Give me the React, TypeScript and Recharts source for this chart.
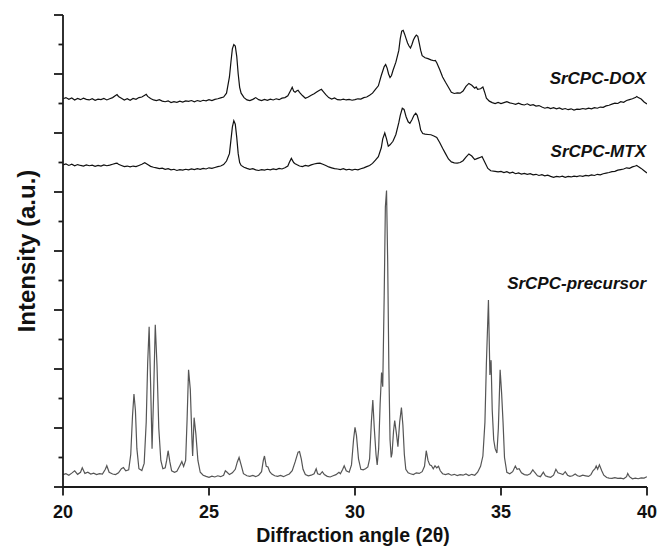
import { Line, LineChart, XAxis, YAxis } from "recharts";

// 2θ (deg), intensity in axis ticks (a.u.)
const doxPattern = [
  [20.0, 13.16], [20.1, 13.2], [20.2, 13.14], [20.3, 13.19], [20.4, 13.12], [20.5, 13.17], [20.6, 13.13], [20.7, 13.18],
  [20.8, 13.14], [20.9, 13.12], [21.0, 13.16], [21.1, 13.11], [21.2, 13.15], [21.3, 13.13], [21.4, 13.17], [21.5, 13.12],
  [21.6, 13.16], [21.7, 13.2], [21.8, 13.27], [21.85, 13.3], [21.9, 13.24], [22.0, 13.18], [22.1, 13.12], [22.2, 13.16],
  [22.3, 13.11], [22.4, 13.17], [22.5, 13.14], [22.6, 13.2], [22.7, 13.22], [22.8, 13.28], [22.85, 13.31], [22.9, 13.24],
  [23.0, 13.17], [23.1, 13.12], [23.2, 13.1], [23.3, 13.13], [23.4, 13.08], [23.5, 13.06], [23.6, 13.09], [23.7, 13.03],
  [23.8, 13.06], [23.9, 13.04], [24.0, 13.08], [24.1, 13.05], [24.2, 13.09], [24.3, 13.07], [24.4, 13.1], [24.5, 13.06],
  [24.6, 13.1], [24.7, 13.07], [24.8, 13.11], [24.9, 13.09], [25.0, 13.13], [25.1, 13.1], [25.2, 13.14], [25.3, 13.16],
  [25.4, 13.19], [25.5, 13.22], [25.6, 13.35], [25.7, 13.9], [25.75, 14.4], [25.8, 14.85], [25.85, 15.0], [25.9, 14.95],
  [25.95, 14.6], [26.0, 14.0], [26.05, 13.55], [26.1, 13.35], [26.2, 13.2], [26.3, 13.12], [26.4, 13.1], [26.5, 13.14],
  [26.6, 13.2], [26.7, 13.13], [26.8, 13.1], [26.9, 13.14], [27.0, 13.11], [27.1, 13.15], [27.2, 13.12], [27.3, 13.16],
  [27.4, 13.13], [27.5, 13.18], [27.6, 13.2], [27.7, 13.26], [27.8, 13.45], [27.85, 13.55], [27.9, 13.42], [27.95, 13.38],
  [28.0, 13.42], [28.05, 13.45], [28.1, 13.38], [28.2, 13.27], [28.3, 13.18], [28.4, 13.22], [28.5, 13.28], [28.6, 13.33],
  [28.7, 13.4], [28.8, 13.46], [28.85, 13.48], [28.9, 13.42], [29.0, 13.3], [29.1, 13.2], [29.2, 13.15], [29.3, 13.19],
  [29.4, 13.13], [29.5, 13.12], [29.6, 13.15], [29.7, 13.12], [29.8, 13.14], [29.9, 13.11], [30.0, 13.13], [30.1, 13.16],
  [30.2, 13.15], [30.3, 13.2], [30.4, 13.22], [30.5, 13.28], [30.6, 13.35], [30.7, 13.48], [30.8, 13.6], [30.9, 13.95],
  [31.0, 14.25], [31.05, 14.32], [31.1, 14.2], [31.15, 14.0], [31.2, 13.88], [31.25, 13.95], [31.3, 14.12], [31.4, 14.4],
  [31.5, 14.8], [31.55, 15.2], [31.6, 15.45], [31.65, 15.48], [31.7, 15.35], [31.75, 15.2], [31.8, 15.05], [31.85, 14.95],
  [31.9, 14.88], [31.95, 15.0], [32.0, 15.15], [32.05, 15.25], [32.1, 15.32], [32.15, 15.28], [32.2, 15.05], [32.25, 14.8],
  [32.3, 14.62], [32.4, 14.55], [32.5, 14.52], [32.6, 14.48], [32.7, 14.45], [32.75, 14.46], [32.8, 14.38], [32.9, 14.15],
  [33.0, 13.9], [33.1, 13.72], [33.2, 13.55], [33.3, 13.38], [33.4, 13.34], [33.5, 13.36], [33.6, 13.35], [33.7, 13.42],
  [33.8, 13.58], [33.9, 13.68], [34.0, 13.62], [34.1, 13.52], [34.15, 13.56], [34.2, 13.48], [34.3, 13.5], [34.38, 13.56],
  [34.45, 13.35], [34.5, 13.18], [34.6, 13.08], [34.7, 13.03], [34.8, 13.0], [34.9, 13.04], [35.0, 13.0], [35.1, 13.03],
  [35.2, 13.06], [35.3, 13.02], [35.4, 13.0], [35.5, 12.97], [35.6, 13.01], [35.7, 12.97], [35.8, 12.95], [35.9, 12.99],
  [36.0, 12.94], [36.1, 12.96], [36.2, 12.91], [36.3, 12.93], [36.4, 12.88], [36.5, 12.84], [36.6, 12.87], [36.7, 12.83],
  [36.8, 12.86], [36.9, 12.82], [37.0, 12.85], [37.1, 12.8], [37.2, 12.83], [37.3, 12.79], [37.4, 12.82], [37.5, 12.78],
  [37.6, 12.81], [37.7, 12.8], [37.8, 12.83], [37.9, 12.81], [38.0, 12.84], [38.1, 12.82], [38.2, 12.86], [38.3, 12.84],
  [38.4, 12.88], [38.5, 12.87], [38.6, 12.92], [38.7, 12.94], [38.8, 12.98], [38.9, 13.01], [39.0, 13.0], [39.1, 13.06],
  [39.2, 13.04], [39.3, 13.1], [39.4, 13.13], [39.5, 13.16], [39.6, 13.2], [39.65, 13.24], [39.7, 13.2], [39.8, 13.15],
  [39.9, 13.05], [40.0, 12.98],
];

const mtxPattern = [
  [20.0, 10.92], [20.1, 10.95], [20.2, 10.9], [20.3, 10.94], [20.4, 10.89], [20.5, 10.93], [20.6, 10.9], [20.7, 10.88],
  [20.8, 10.92], [20.9, 10.89], [21.0, 10.91], [21.1, 10.87], [21.2, 10.9], [21.3, 10.88], [21.4, 10.92], [21.5, 10.89],
  [21.6, 10.91], [21.7, 10.94], [21.8, 10.97], [21.85, 10.98], [21.9, 10.94], [22.0, 10.9], [22.1, 10.86], [22.2, 10.88],
  [22.3, 10.85], [22.4, 10.88], [22.5, 10.86], [22.6, 10.9], [22.7, 10.94], [22.8, 10.99], [22.9, 10.93], [23.0, 10.87],
  [23.1, 10.84], [23.2, 10.82], [23.3, 10.79], [23.4, 10.81], [23.5, 10.77], [23.6, 10.79], [23.7, 10.75], [23.8, 10.77],
  [23.9, 10.73], [24.0, 10.76], [24.1, 10.74], [24.2, 10.77], [24.3, 10.75], [24.4, 10.78], [24.5, 10.76], [24.6, 10.79],
  [24.7, 10.77], [24.8, 10.8], [24.9, 10.78], [25.0, 10.82], [25.1, 10.8], [25.2, 10.83], [25.3, 10.86], [25.4, 10.88],
  [25.5, 10.93], [25.6, 11.05], [25.7, 11.3], [25.75, 11.75], [25.8, 12.2], [25.85, 12.42], [25.9, 12.3], [25.95, 11.85],
  [26.0, 11.3], [26.05, 11.0], [26.1, 10.9], [26.2, 10.84], [26.3, 10.8], [26.4, 10.77], [26.5, 10.79], [26.6, 10.75],
  [26.7, 10.73], [26.8, 10.76], [26.9, 10.74], [27.0, 10.77], [27.1, 10.75], [27.2, 10.78], [27.3, 10.76], [27.4, 10.8],
  [27.5, 10.78], [27.6, 10.82], [27.7, 10.88], [27.75, 11.0], [27.82, 11.14], [27.9, 11.0], [27.95, 10.96], [28.0, 10.93],
  [28.1, 10.88], [28.2, 10.86], [28.3, 10.9], [28.4, 10.88], [28.5, 10.92], [28.6, 10.95], [28.7, 10.97], [28.8, 10.98],
  [28.9, 10.94], [29.0, 10.9], [29.1, 10.85], [29.2, 10.82], [29.3, 10.79], [29.4, 10.78], [29.5, 10.76], [29.6, 10.79],
  [29.7, 10.75], [29.8, 10.77], [29.9, 10.74], [30.0, 10.77], [30.1, 10.75], [30.2, 10.79], [30.3, 10.82], [30.4, 10.86],
  [30.5, 10.9], [30.6, 10.97], [30.7, 11.08], [30.8, 11.2], [30.9, 11.5], [30.95, 11.8], [31.02, 12.0], [31.08, 11.8],
  [31.14, 11.55], [31.2, 11.6], [31.3, 11.72], [31.4, 11.95], [31.5, 12.35], [31.55, 12.6], [31.62, 12.84], [31.68, 12.8],
  [31.75, 12.55], [31.82, 12.38], [31.88, 12.33], [31.95, 12.45], [32.02, 12.6], [32.08, 12.67], [32.13, 12.6], [32.2, 12.35],
  [32.25, 12.1], [32.32, 11.98], [32.4, 11.96], [32.5, 11.95], [32.6, 11.94], [32.7, 11.9], [32.8, 11.85], [32.9, 11.68],
  [33.0, 11.48], [33.1, 11.3], [33.2, 11.12], [33.3, 11.02], [33.4, 10.99], [33.5, 10.98], [33.6, 11.0], [33.7, 11.06],
  [33.8, 11.18], [33.9, 11.29], [34.0, 11.22], [34.1, 11.1], [34.2, 11.14], [34.3, 11.18], [34.35, 11.2], [34.45, 11.0],
  [34.55, 10.8], [34.65, 10.72], [34.8, 10.7], [34.9, 10.68], [35.0, 10.7], [35.1, 10.66], [35.2, 10.69], [35.3, 10.64],
  [35.4, 10.67], [35.5, 10.62], [35.6, 10.65], [35.7, 10.61], [35.8, 10.63], [35.9, 10.6], [36.0, 10.62], [36.1, 10.58],
  [36.2, 10.6], [36.3, 10.56], [36.4, 10.59], [36.5, 10.55], [36.6, 10.57], [36.7, 10.53], [36.8, 10.5], [36.9, 10.53],
  [37.0, 10.51], [37.1, 10.54], [37.2, 10.5], [37.3, 10.53], [37.4, 10.51], [37.5, 10.54], [37.6, 10.52], [37.7, 10.55],
  [37.8, 10.53], [37.9, 10.56], [38.0, 10.55], [38.1, 10.58], [38.2, 10.56], [38.3, 10.6], [38.4, 10.58], [38.5, 10.62],
  [38.6, 10.64], [38.7, 10.66], [38.8, 10.69], [38.9, 10.7], [39.0, 10.74], [39.1, 10.76], [39.2, 10.78], [39.3, 10.82],
  [39.4, 10.8], [39.5, 10.85], [39.6, 10.88], [39.65, 10.9], [39.7, 10.86], [39.8, 10.8], [39.9, 10.72], [40.0, 10.64],
];

const precursorPattern = [
  [20.0, 0.42], [20.1, 0.45], [20.2, 0.4], [20.3, 0.47], [20.4, 0.55], [20.5, 0.43], [20.6, 0.5], [20.66, 0.65],
  [20.75, 0.46], [20.85, 0.5], [20.95, 0.44], [21.05, 0.47], [21.15, 0.42], [21.25, 0.45], [21.35, 0.44], [21.45, 0.6],
  [21.5, 0.72], [21.58, 0.5], [21.7, 0.44], [21.8, 0.42], [21.9, 0.48], [22.0, 0.62], [22.07, 0.66], [22.15, 0.55],
  [22.25, 0.58], [22.32, 1.1], [22.38, 2.4], [22.43, 3.15], [22.48, 2.6], [22.53, 1.3], [22.6, 0.62], [22.7, 0.56],
  [22.78, 0.8], [22.85, 2.2], [22.9, 4.2], [22.95, 5.43], [23.0, 3.5], [23.05, 1.3], [23.1, 3.0], [23.16, 5.5],
  [23.22, 4.1], [23.28, 2.0], [23.35, 0.9], [23.42, 0.62], [23.5, 0.65], [23.55, 0.9], [23.6, 1.23], [23.66, 0.85],
  [23.72, 0.55], [23.82, 0.5], [23.9, 0.53], [24.0, 0.72], [24.07, 0.86], [24.13, 0.7], [24.2, 0.9], [24.25, 2.3],
  [24.3, 3.97], [24.36, 3.3], [24.42, 1.5], [24.44, 1.05], [24.49, 2.35], [24.55, 1.8], [24.62, 0.9], [24.7, 0.5],
  [24.8, 0.4], [24.9, 0.36], [25.0, 0.33], [25.1, 0.37], [25.2, 0.34], [25.3, 0.38], [25.4, 0.35], [25.5, 0.4],
  [25.56, 0.55], [25.62, 0.5], [25.7, 0.42], [25.8, 0.48], [25.9, 0.6], [25.97, 0.85], [26.03, 1.0], [26.1, 0.75],
  [26.18, 0.45], [26.3, 0.38], [26.4, 0.36], [26.5, 0.39], [26.6, 0.35], [26.7, 0.4], [26.8, 0.52], [26.86, 0.9],
  [26.9, 1.05], [26.96, 0.7], [27.02, 0.68], [27.08, 0.52], [27.15, 0.44], [27.25, 0.38], [27.35, 0.36], [27.45, 0.39],
  [27.55, 0.35], [27.65, 0.4], [27.75, 0.44], [27.85, 0.55], [27.95, 0.85], [28.05, 1.18], [28.1, 1.2], [28.16, 0.95],
  [28.22, 0.6], [28.3, 0.42], [28.4, 0.38], [28.5, 0.4], [28.6, 0.45], [28.67, 0.62], [28.72, 0.45], [28.8, 0.42],
  [28.88, 0.52], [28.95, 0.42], [29.05, 0.36], [29.15, 0.34], [29.25, 0.38], [29.35, 0.42], [29.45, 0.5], [29.5, 0.45],
  [29.58, 0.6], [29.63, 0.72], [29.7, 0.55], [29.8, 0.5], [29.88, 0.75], [29.95, 1.6], [30.0, 2.02], [30.05, 1.75],
  [30.12, 0.95], [30.2, 0.6], [30.28, 0.58], [30.36, 0.62], [30.44, 0.68], [30.5, 0.95], [30.56, 2.2], [30.61, 2.95],
  [30.66, 2.0], [30.72, 1.1], [30.76, 0.75], [30.81, 1.3], [30.86, 2.8], [30.91, 3.88], [30.95, 3.4], [31.0, 6.5],
  [31.04, 9.5], [31.08, 10.05], [31.12, 7.6], [31.16, 4.0], [31.2, 1.6], [31.24, 1.0], [31.27, 1.15], [31.32, 1.9],
  [31.36, 2.25], [31.42, 1.8], [31.47, 1.37], [31.53, 2.2], [31.59, 2.69], [31.64, 2.1], [31.69, 1.1], [31.74, 0.6],
  [31.82, 0.48], [31.9, 0.45], [32.0, 0.42], [32.1, 0.48], [32.2, 0.46], [32.3, 0.52], [32.38, 0.7], [32.44, 1.23],
  [32.5, 0.9], [32.56, 0.75], [32.62, 0.72], [32.68, 0.62], [32.74, 0.72], [32.8, 0.65], [32.86, 0.7], [32.92, 0.55],
  [33.0, 0.45], [33.1, 0.42], [33.2, 0.45], [33.3, 0.4], [33.4, 0.43], [33.5, 0.39], [33.6, 0.42], [33.7, 0.4],
  [33.8, 0.44], [33.9, 0.39], [34.0, 0.43], [34.1, 0.4], [34.2, 0.5], [34.3, 0.7], [34.38, 1.05], [34.45, 2.2],
  [34.5, 4.2], [34.57, 6.34], [34.62, 3.8], [34.66, 4.3], [34.7, 2.6], [34.75, 1.6], [34.8, 1.3], [34.86, 1.15],
  [34.91, 2.0], [34.97, 3.97], [35.02, 3.2], [35.07, 2.2], [35.12, 1.0], [35.2, 0.5], [35.3, 0.45], [35.4, 0.52],
  [35.49, 0.71], [35.55, 0.6], [35.62, 0.62], [35.7, 0.48], [35.8, 0.42], [35.9, 0.4], [36.0, 0.45], [36.09, 0.58],
  [36.15, 0.5], [36.25, 0.38], [36.35, 0.35], [36.45, 0.5], [36.52, 0.38], [36.6, 0.35], [36.7, 0.33], [36.8, 0.4],
  [36.88, 0.6], [36.95, 0.48], [37.05, 0.45], [37.12, 0.42], [37.2, 0.52], [37.28, 0.4], [37.36, 0.36], [37.45, 0.38],
  [37.54, 0.44], [37.62, 0.38], [37.7, 0.36], [37.8, 0.4], [37.9, 0.38], [38.0, 0.36], [38.08, 0.42], [38.15, 0.55],
  [38.22, 0.62], [38.26, 0.71], [38.31, 0.6], [38.37, 0.75], [38.45, 0.55], [38.52, 0.4], [38.62, 0.32], [38.7, 0.3],
  [38.8, 0.29], [38.9, 0.32], [39.0, 0.29], [39.1, 0.3], [39.2, 0.28], [39.3, 0.35], [39.34, 0.46], [39.4, 0.35],
  [39.5, 0.28], [39.6, 0.3], [39.7, 0.28], [39.8, 0.31], [39.9, 0.3], [40.0, 0.35],
];

const xTicks = [20, 25, 30, 35, 40];
const yTicks = [0, 1, 2, 3, 4, 5, 6, 7, 8, 9, 10, 11, 12, 13, 14, 15, 16];
const seriesNames = ["SrCPC-DOX", "SrCPC-MTX", "SrCPC-precursor"];

const FONT = "'Liberation Sans', Arial, Helvetica, sans-serif";
const AXIS = "#1a1a1a";
const axisStroke = { stroke: AXIS, strokeWidth: 1.8 };

const rows = (pts: number[][]) => pts.map(([x, y]) => ({ x, y }));

// x tick: mark pointing down plus bold label
function XTick(props: any) {
  const { x, y, payload } = props;
  return (
    <g>
      <rect x={x - 0.9} y={y} width={1.8} height={8.5} fill={AXIS} />
      <text x={x} y={y + 31} textAnchor="middle" fontSize={18} fontWeight="bold" fontFamily={FONT} fill="#111">
        {payload.value}
      </text>
    </g>
  );
}

// y tick: no label, long mark every second tick
function YTick(props: any) {
  const { x, y, payload } = props;
  const len = payload.value % 2 === 0 ? 9 : 4.5;
  return <path d={`M${x - len},${y}H${x}`} stroke={AXIS} strokeWidth={1.8} fill="none" />;
}

export default function App() {
  return (
    <div style={{ position: "absolute", left: 0, top: 0, width: 669, height: 547, background: "#fff" }}>
      <LineChart width={669} height={547} margin={{ top: 15, right: 22, bottom: 0, left: 62 }}>
        <XAxis
          type="number"
          dataKey="x"
          domain={[20, 40]}
          ticks={xTicks}
          allowDataOverflow
          height={60}
          tickSize={0}
          tickMargin={0}
          tickLine={false}
          axisLine={axisStroke}
          tick={<XTick />}
        />
        <YAxis
          type="number"
          domain={[0, 16]}
          ticks={yTicks}
          allowDataOverflow
          width={1}
          tickSize={0}
          tickMargin={0}
          tickLine={false}
          axisLine={axisStroke}
          tick={<YTick />}
        />
        <Line data={rows(doxPattern)} dataKey="y" name={seriesNames[0]} stroke="#111" strokeWidth={1.2}
          dot={false} activeDot={false} isAnimationActive={false} />
        <Line data={rows(mtxPattern)} dataKey="y" name={seriesNames[1]} stroke="#111" strokeWidth={1.2}
          dot={false} activeDot={false} isAnimationActive={false} />
        <Line data={rows(precursorPattern)} dataKey="y" name={seriesNames[2]} stroke="#555" strokeWidth={1.2}
          dot={false} activeDot={false} isAnimationActive={false} />

        <g fontFamily={FONT} fontWeight="bold" fill="#111">
          <text x={646} y={84} textAnchor="end" fontSize={17} fontStyle="italic">{seriesNames[0]}</text>
          <text x={646} y={157} textAnchor="end" fontSize={17} fontStyle="italic">{seriesNames[1]}</text>
          <text x={646} y={289} textAnchor="end" fontSize={17} fontStyle="italic">{seriesNames[2]}</text>
          <text x={353} y={542} textAnchor="middle" fontSize={19.5}>Diffraction angle (2θ)</text>
          <text x={35} y={251} textAnchor="middle" fontSize={24} transform="rotate(-90 35 251)">Intensity (a.u.)</text>
        </g>
      </LineChart>
    </div>
  );
}
